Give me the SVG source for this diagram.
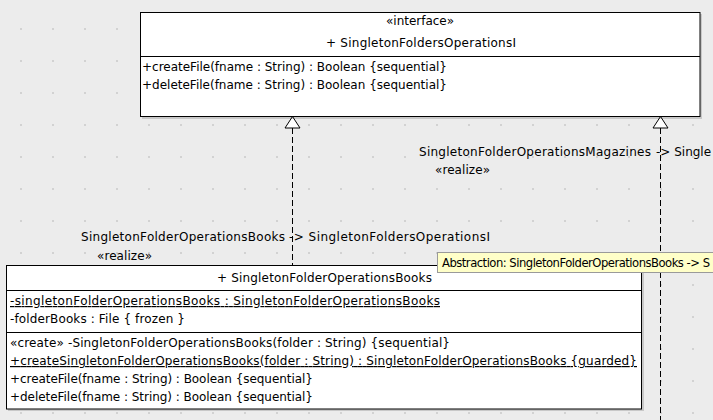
<svg xmlns="http://www.w3.org/2000/svg" width="713" height="420" viewBox="0 0 713 420">
<style>
text{font-family:"DejaVu Sans","Liberation Sans",sans-serif;font-size:12px;fill:#000}
.box{fill:#fff;stroke:#000;stroke-width:1}
.shadow{fill:#000;opacity:0.15}
.div{stroke:#000;stroke-width:1}
.dash{stroke:#000;stroke-width:1;stroke-dasharray:6,3;fill:none}
.tri{fill:#fff;stroke:#000;stroke-width:1}
.c{text-anchor:middle}
.u{text-decoration:underline}
.tip{font-size:11.6px}
</style>
<defs>
<pattern id="grid" x="20" y="28" width="32" height="32" patternUnits="userSpaceOnUse">
<rect x="0" y="0" width="2" height="2" fill="#d2d2d2"/>
</pattern>
</defs>
<rect width="713" height="420" fill="#ececec"/>
<rect width="713" height="420" fill="url(#grid)"/>

<g id="connectors">
<line class="dash" x1="292.5" y1="128" x2="292.5" y2="265"/>
<polygon class="tri" points="292.5,116.5 285,128 300,128"/>
<line class="dash" x1="660.5" y1="128" x2="660.5" y2="420"/>
<polygon class="tri" points="660.5,116.5 653,128 668,128"/>
<text x="81" y="241" textLength="204" lengthAdjust="spacing">SingletonFolderOperationsBooks</text>
<text x="289" y="241" textLength="201" lengthAdjust="spacing">-&gt; SingletonFoldersOperationsI</text>
<text x="97" y="260" textLength="55" lengthAdjust="spacing">«realize»</text>
<text x="419" y="156" textLength="232" lengthAdjust="spacing">SingletonFolderOperationsMagazines</text>
<text x="656" y="156">-&gt; Single</text>
<text x="435" y="174" textLength="55" lengthAdjust="spacing">«realize»</text>
</g>

<g id="SingletonFoldersOperationsI">
<rect class="shadow" x="142" y="14" width="560" height="105"/>
<rect class="box" x="140.5" y="12.5" width="559.5" height="104"/>
<line class="div" x1="140.5" y1="56.5" x2="700" y2="56.5"/>
<text class="c" x="420" y="25" textLength="68" lengthAdjust="spacing">«interface»</text>
<text class="c" x="421" y="47" textLength="190" lengthAdjust="spacing">+ SingletonFoldersOperationsI</text>
<text x="142" y="71" textLength="305" lengthAdjust="spacing">+createFile(fname : String) : Boolean {sequential}</text>
<text x="142" y="89" textLength="305" lengthAdjust="spacing">+deleteFile(fname : String) : Boolean {sequential}</text>
</g>

<g id="SingletonFolderOperationsBooks">
<rect class="shadow" x="8" y="267" width="636" height="144"/>
<rect class="box" x="6.5" y="265.5" width="635" height="143.5"/>
<line class="div" x1="6.5" y1="290.5" x2="641.5" y2="290.5"/>
<line class="div" x1="6.5" y1="332.5" x2="641.5" y2="332.5"/>
<text class="c" x="324.5" y="282" textLength="215" lengthAdjust="spacing">+ SingletonFolderOperationsBooks</text>
<text class="u" x="10" y="305" textLength="430" lengthAdjust="spacing">-singletonFolderOperationsBooks : SingletonFolderOperationsBooks</text>
<text x="10" y="323" textLength="175" lengthAdjust="spacing">-folderBooks : File { frozen }</text>
<text x="10" y="347" textLength="440" lengthAdjust="spacing">«create» -SingletonFolderOperationsBooks(folder : String) {sequential}</text>
<text class="u" x="10" y="365" textLength="627" lengthAdjust="spacing">+createSingletonFolderOperationsBooks(folder : String) : SingletonFolderOperationsBooks {guarded}</text>
<text x="10" y="383" textLength="303" lengthAdjust="spacing">+createFile(fname : String) : Boolean {sequential}</text>
<text x="10" y="401" textLength="303" lengthAdjust="spacing">+deleteFile(fname : String) : Boolean {sequential}</text>
</g>

<g id="tooltip">
<rect x="437.5" y="252.5" width="290" height="20" fill="#ffffc8" stroke="#9a9a9a" stroke-width="1"/>
<text class="tip" x="442" y="267" textLength="268" lengthAdjust="spacing">Abstraction: SingletonFolderOperationsBooks -&gt; S</text>
</g>
</svg>
